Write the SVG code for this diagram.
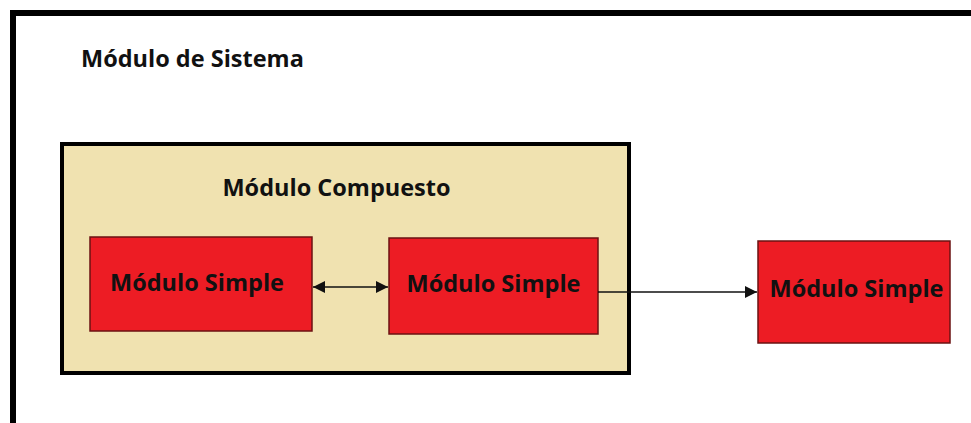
<svg xmlns="http://www.w3.org/2000/svg" width="971" height="423" viewBox="0 0 971 423">
<defs>
<style>
.t{font-family:"Open Sans","Liberation Sans",sans-serif;font-weight:700;font-size:23.5px;fill:#111}
.simple{fill:#ED1C24;stroke:#6b1212;stroke-width:1.5}
.conn{stroke:#111;stroke-width:1.3;fill:none}
</style>
<marker id="ah" viewBox="0 0 10 10" refX="10" refY="5" markerWidth="14" markerHeight="12" markerUnits="userSpaceOnUse" orient="auto-start-reverse">
<path d="M0,0 L10,5 L0,10 Z" fill="#111"/>
</marker>
</defs>
<rect width="971" height="423" fill="#fff"/>
<g id="sistema">
<path d="M13,423 L13,13 L971,13" fill="none" stroke="#000" stroke-width="6"/>
<text class="t" x="81" y="67">Módulo de Sistema</text>
</g>
<g id="compuesto">
<rect x="62" y="144" width="567" height="229" fill="#F0E2B0" stroke="#000" stroke-width="4"/>
<text class="t" x="336.5" y="196" text-anchor="middle">Módulo Compuesto</text>
</g>
<g id="simple1">
<rect class="simple" x="90" y="237" width="222" height="94"/>
<text class="t" x="197" y="291" text-anchor="middle">Módulo Simple</text>
</g>
<g id="simple2">
<rect class="simple" x="389" y="238" width="209" height="96"/>
<text class="t" x="493.5" y="292" text-anchor="middle">Módulo Simple</text>
</g>
<g id="simple3">
<rect class="simple" x="758" y="241" width="192" height="102"/>
<text class="t" x="856.5" y="297" text-anchor="middle">Módulo Simple</text>
</g>
<g id="connectors">
<line class="conn" x1="313" y1="287" x2="388" y2="287" marker-start="url(#ah)" marker-end="url(#ah)"/>
<line class="conn" x1="598" y1="292" x2="757" y2="292" marker-end="url(#ah)"/>
</g>
</svg>
